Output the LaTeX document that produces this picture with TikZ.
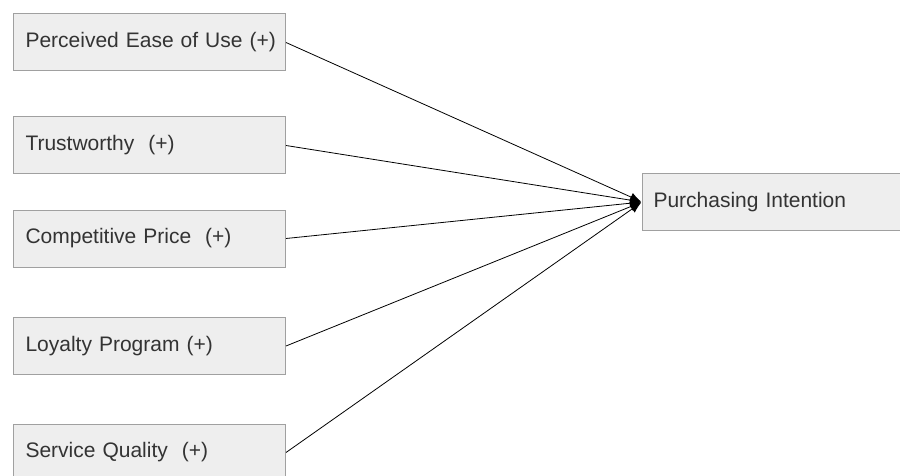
\documentclass[tikz,border=0pt]{standalone}
\usepackage{fontspec}
\setmainfont{Liberation Sans}
\usetikzlibrary{arrows.meta}

\definecolor{boxfill}{HTML}{EEEEEE}
\definecolor{boxline}{HTML}{A0A0A0}
\definecolor{boxtext}{HTML}{333333}

\begin{document}
\begin{tikzpicture}[x=1pt, y=-1pt, >={Latex[length=11pt,width=9pt]},
                    factor/.style = {draw = boxline, fill = boxfill, line width = 1pt,
                                     text = boxtext, font = \fontsize{21}{25}\selectfont,
                                     minimum height = 57pt, text width = 260pt,
                                     inner xsep = 6pt, inner ysep = 0pt,
                                     execute at begin node = \hspace*{6pt},
                                     align = left, anchor = west},
                    link/.style = {->, line width = .8pt, shorten >= 1pt}
                   ]
     \clip (0,0) rectangle (900,476);
     \useasboundingbox (0,0) rectangle (900,476);

     \node[factor] (ease)  at (13,42.5)  {Perceived Ease of Use (+)};
     \node[factor] (trust) at (13,145.5) {Trustworthy\ \ (+)};
     \node[factor] (price) at (13,238.5) {Competitive Price\ \ (+)};
     \node[factor] (loyal) at (13,346)   {Loyalty Program (+)};
     \node[factor] (serv)  at (13,452.5) {Service Quality\ \ (+)};

     \node[factor, inner xsep = 5pt] (intent) at (642,202) {Purchasing Intention};

     \foreach \src in {ease, trust, price, loyal, serv}
          \draw[link] (\src.east) -- (intent.west);
\end{tikzpicture}
\end{document}
